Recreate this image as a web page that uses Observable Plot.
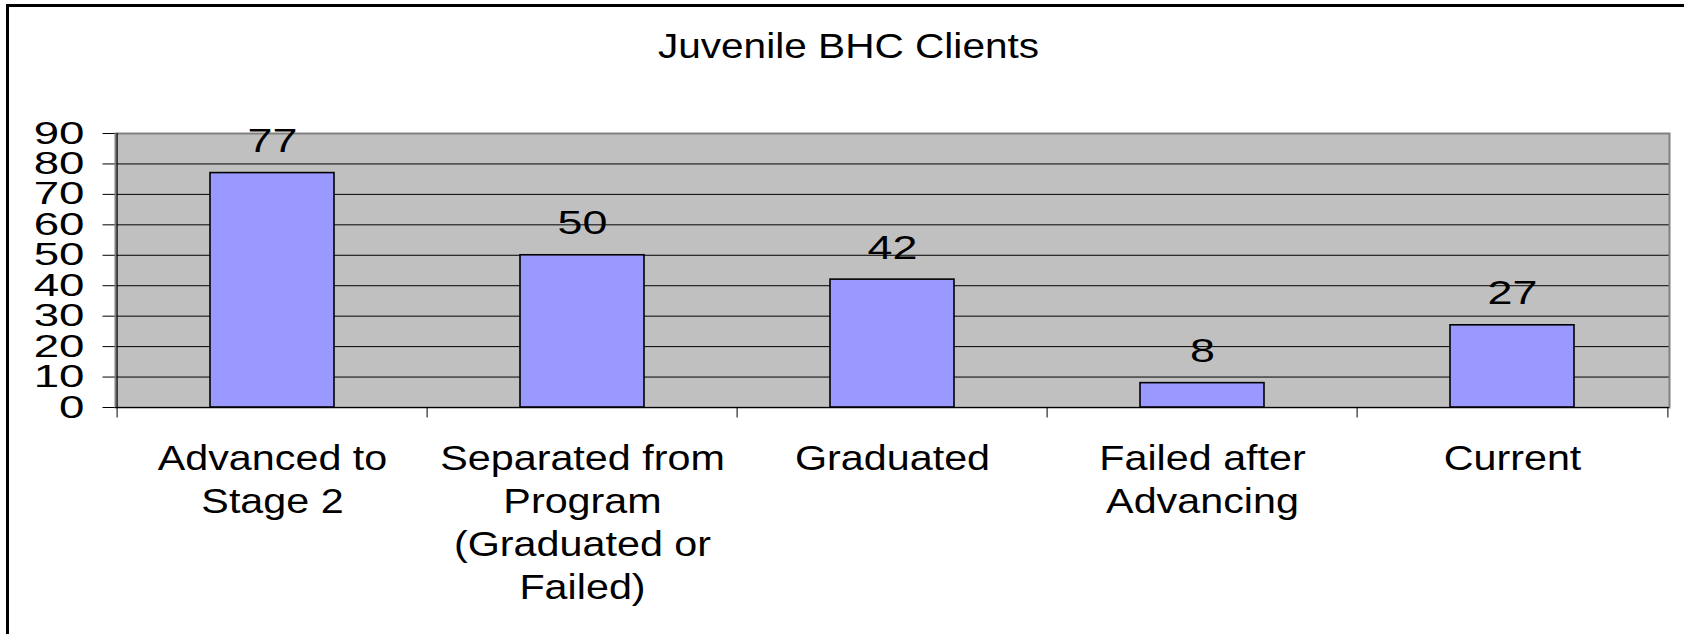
<!DOCTYPE html>
<html>
<head>
<meta charset="utf-8">
<script src="https://cdn.jsdelivr.net/npm/d3@7"></script>
<script src="https://cdn.jsdelivr.net/npm/@observablehq/plot@0.6"></script>
<style>
  html, body { margin: 0; padding: 0; background: #fff; overflow: hidden; }
  #wrap { position: relative; width: 1684px; height: 634px; }
  #border { position: absolute; left: 6px; top: 4px; width: 2000px; height: 2000px;
            border-left: 3px solid #000; border-top: 3px solid #000; pointer-events: none; }
</style>
</head>
<body>
<div id="wrap"><div id="border"></div></div>
<script>
// ---- data ----
const title = ["Juvenile BHC Clients"];
const categories = [
  "Advanced to\nStage 2",
  "Separated from\nProgram\n(Graduated or\nFailed)",
  "Graduated",
  "Failed after\nAdvancing",
  "Current"
];
const values = [77, 50, 42, 8, 27];
const yTicks = [0, 10, 20, 30, 40, 50, 60, 70, 80, 90];

// ---- layout ----
const width = 1684, height = 634;
const marginLeft = 115, marginRight = 15, marginTop = 133, marginBottom = 227;
const step = (width - marginLeft - marginRight) / categories.length;
const font = "Liberation Sans, Arial, Helvetica, sans-serif";

const table = categories.map((c, i) => ({category: c, value: values[i]}));

const marks = [
  Plot.frame({fill: "#c0c0c0", stroke: "none"}),
  Plot.ruleY(yTicks, {y: d => d, stroke: "#000", strokeWidth: 1, insetLeft: -12.5}),
  Plot.frame({stroke: "#808080", strokeWidth: 2}),
  Plot.barY(table, {x: "category", y: "value", fill: "#9999ff", stroke: "#000", strokeWidth: 1.6}),
  Plot.ruleY([0], {y: d => d, stroke: "#000", strokeWidth: 1.2}),
  Plot.ruleX([categories[0]], {x: d => d, y1: 0, y2: 90, dx: -step / 2, stroke: "#000", strokeWidth: 1.2}),
  Plot.ruleX(categories, {x: d => d, y1: 0, y2: 0, insetBottom: -10.5, dx: -step / 2, stroke: "#000", strokeWidth: 1}),
  Plot.ruleX([categories[categories.length - 1]], {x: d => d, y1: 0, y2: 0, insetBottom: -10.5, dx: step / 2, stroke: "#000", strokeWidth: 1}),
  Plot.text(yTicks, {y: d => d, text: d => String(d), frameAnchor: "left", textAnchor: "end", lineAnchor: "middle", dx: -31, fontSize: 31.5, fill: "#000", fontFamily: font}),
  Plot.text(table, {x: "category", y: "value", text: d => String(d.value), lineAnchor: "bottom", dy: -21, fontSize: 34, fill: "#000", fontFamily: font}),
  Plot.text(table, {x: "category", text: "category", frameAnchor: "bottom", lineAnchor: "top", lineHeight: 1.23, dy: 32, fontSize: 35, fill: "#000", fontFamily: font}),
  Plot.text(title, {text: d => d, frameAnchor: "top", lineAnchor: "bottom", dx: -44, dy: -76, fontSize: 35, fill: "#000", fontFamily: font})
];
// horizontal stretch per text mark (index in marks)
const stretch = {8: 1.45, 9: 1.32, 10: 1.18, 11: 1.16};

const chart = Plot.plot({
  width, height, marginLeft, marginRight, marginTop, marginBottom,
  style: {background: "transparent", fontFamily: font, color: "#000", overflow: "visible"},
  x: {type: "band", domain: categories, paddingInner: 0.6, paddingOuter: 0.3, axis: null},
  y: {domain: [0, 90], axis: null},
  marks
});

const nodes = Array.from(chart.childNodes).filter(n => n.nodeType === 1 && n.nodeName.toLowerCase() !== "style");
if (nodes.length === marks.length) {
  for (const k in stretch) {
    const s = stretch[k];
    nodes[k].querySelectorAll("text").forEach(t => {
      const tr = t.getAttribute("transform");
      if (tr) t.setAttribute("transform", tr + ` scale(${s},1)`);
      else {
        const x = +t.getAttribute("x") || 0;
        t.setAttribute("transform", `translate(${x},0) scale(${s},1) translate(${-x},0)`);
      }
    });
  }
}
chart.style.position = "absolute";
chart.style.left = "0px";
chart.style.top = "0px";
document.getElementById("wrap").prepend(chart);
</script>
</body>
</html>
